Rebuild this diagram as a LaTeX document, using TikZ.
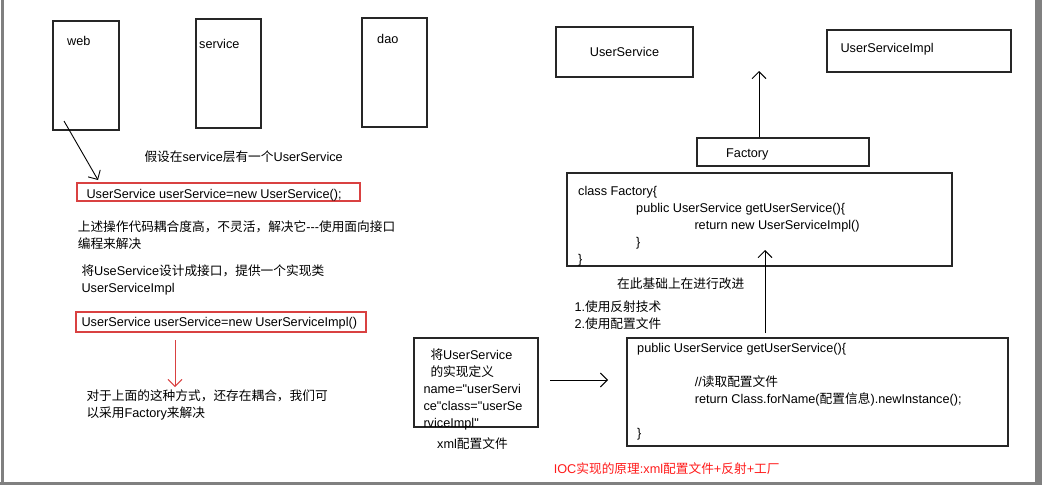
\documentclass[tikz,border=0pt]{standalone}
\usepackage{fontspec}
\usetikzlibrary{arrows.meta}
\newfontfamily\arialfont{Liberation Sans}
\newfontfamily\cjkfont{Noto Sans CJK SC}
\newcommand{\zh}[1]{{\cjkfont #1}}
\definecolor{cred}{HTML}{D94141}
\definecolor{ctext}{HTML}{FF1A1A}
\definecolor{cframe}{HTML}{808080}
\tikzset{
  every picture/.style={font=\arialfont\fontsize{12.7}{17}\selectfont, line width=1pt},
  box/.style={draw=#1, line width=1.2pt, inner sep=0pt},
  box/.default=black!85,
  txt/.style={anchor=base west, inner sep=0pt, align=left},
  arrow/.style={-{Straight Barb[length=7pt, width=14pt]}, draw=#1, line width=0.9pt},
  arrow/.default=black,
}

\begin{document}
\begin{tikzpicture}[x=1pt, y=-1pt]
  \useasboundingbox (0,0) rectangle (1042,485);
  % screenshot frame
  \fill[cframe] (1,0) rectangle (4,482);
  \fill[cframe] (1035,0) rectangle (1042,485);
  \fill[cframe] (0,482) rectangle (1042,485);

  % three layers
  \node[box, minimum width=66pt, minimum height=109pt] (web) at (86,75.5) {};
  \node[box, minimum width=65pt, minimum height=109pt] (service) at (228.5,73.5) {};
  \node[box, minimum width=65pt, minimum height=109pt] (dao) at (394.5,72.5) {};
  \node[txt] (webtxt) at (66.7,45.5) {web};
  \node[txt] (servicetxt) at (198.7,48) {service};
  \node[txt] (daotxt) at (376.7,43) {dao};

  % left column (multi-line texts sit on their last baseline)
  \node[txt] (assume) at (144,161) {\zh{假设在}service\zh{层有一个}UserService};
  \node[box=cred, minimum width=283pt, minimum height=18pt] (newsvc) at (218.5,192) {};
  \node[txt] (newsvctxt) at (86,198) {UserService userService=new UserService();};
  \coordinate (webout) at (64,121);
  \coordinate (webin) at (98,180);
  \draw[arrow] (webout) -- (webin);
  \node[txt] (coupled) at (77.3,248) {\zh{上述操作代码耦合度高，不灵活，解决它}-\kern0pt-\kern0pt-\zh{使用面向接口}\\\zh{编程来解决}};
  \node[txt] (iface) at (81,292) {\zh{将}UseService\zh{设计成接口，提供一个实现类}\\UserServiceImpl};
  \node[box=cred, minimum width=290pt, minimum height=20pt] (newimpl) at (221,322) {};
  \node[txt] (newimpltxt) at (81,326) {UserService userService=new UserServiceImpl()};
  \coordinate (implout) at (175,340);
  \coordinate (implin) at (175,387);
  \draw[arrow=cred] (implout) -- (implin);
  \node[txt] (stillcoupled) at (86,417.5) {\zh{对于上面的这种方式，还存在耦合，我们可}\\\zh{以采用}Factory\zh{来解决}};

  % factory
  \node[box, minimum width=137pt, minimum height=50pt] (usersvc) at (624.5,52) {UserService};
  \node[box, minimum width=184pt, minimum height=42pt] (usersvcimpl) at (919,51) {};
  \node[txt] (usersvcimpltxt) at (840,52) {UserServiceImpl};
  \node[box, minimum width=172pt, minimum height=28pt] (factory) at (783,152) {};
  \node[txt] (factorytxt) at (725.7,157) {Factory};
  \coordinate (factoryup) at (759,71);
  \draw[arrow] (factory.north -| factoryup) -- (factoryup);
  \node[box, minimum width=385pt, minimum height=93pt] (factorycode) at (759.5,219.5) {};
  \node[txt] (factorycodetxt) at (577.7,263.5) {class Factory\{\\
    \hspace*{58pt}public UserService getUserService()\{\\
    \hspace*{116.3pt}return new UserServiceImpl()\\
    \hspace*{58pt}\}\\
    \}};

  % improvement
  \node[txt] (improve) at (616.7,288) {\zh{在此基础上在进行改进}};
  \node[txt] (steps) at (574,328) {1.\zh{使用反射技术}\\2.\zh{使用配置文件}};
  \node[box, minimum width=124pt, minimum height=89pt] (xmlbox) at (476,382.5) {};
  \node[txt] (xmltxt) at (423,427) {\hspace*{7pt}\zh{将}UserService\\
    \hspace*{7pt}\zh{的实现定义}\\
    name="userServi\\
    ce"class="userSe\\
    rviceImpl"};
  \node[txt] (xmlcap) at (436.7,448) {xml\zh{配置文件}};
  \coordinate (xmlout) at (550,380);
  \coordinate (xmlin) at (608,380);
  \draw[arrow] (xmlout) -- (xmlin);
  \node[box, minimum width=381pt, minimum height=108pt] (getcode) at (817.5,392) {};
  \node[txt] (getcodetxt) at (636.7,437.5) {public UserService getUserService()\{\\[17pt]
    \hspace*{57.6pt}//\zh{读取配置文件}\\
    \hspace*{57.6pt}return Class.forName(\zh{配置信息}).newInstance();\\[17pt]
    \}};
  \coordinate (getcodeout) at (765,333);
  \coordinate (getcodein) at (765,250);
  \draw[arrow] (getcodeout) -- (getcodein);
  \node[txt, text=ctext] (ioc) at (553.3,473) {IOC\zh{实现的原理}:xml\zh{配置文件}+\zh{反射}+\zh{工厂}};
\end{tikzpicture}
\end{document}
